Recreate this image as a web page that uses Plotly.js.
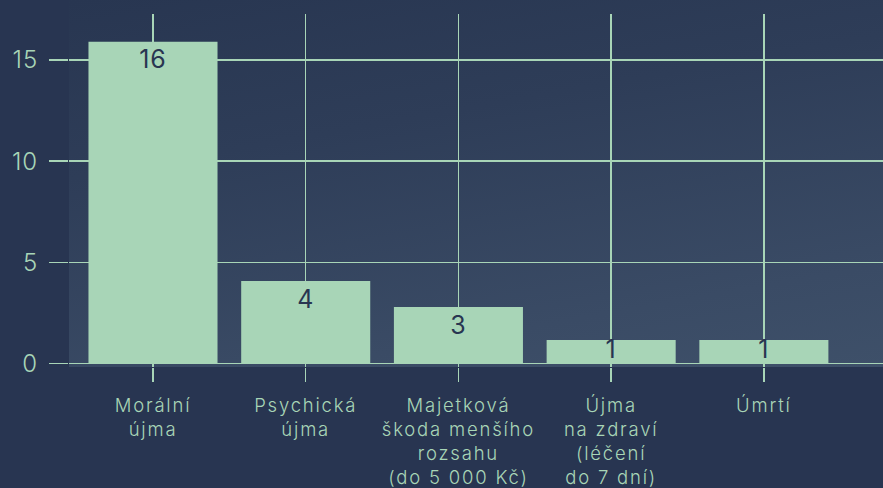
<!DOCTYPE html>
<html>
<head>
<meta charset="utf-8">
<script src="https://cdn.plot.ly/plotly-3.0.1.min.js"></script>
<style>
  html, body { margin: 0; padding: 0; background: #283551; }
  #wrap { position: relative; width: 883px; height: 488px; overflow: hidden; }
  #bg { position: absolute; left: 69px; top: 0px; width: 814px; height: 367px;
        background: linear-gradient(170deg, #283651 0%, #2e3d58 35%, #3a4b65 80%, #3e5069 100%); }
  #chart { position: absolute; left: 0; top: 0; width: 883px; height: 488px; }
  .xtick text { letter-spacing: 1.8px; }
  .ytick text { letter-spacing: 1px; }
  .textpoint text { letter-spacing: 1px; }
</style>
</head>
<body>
<div id="wrap">
  <div id="bg"></div>
  <div id="chart"></div>
</div>
<script>
const categories = [
  "Morální<br>újma",
  "Psychická<br>újma",
  "Majetková<br>škoda menšího<br>rozsahu<br>(do 5 000 Kč)",
  "Újma<br>na zdraví<br>(léčení<br>do 7 dní)",
  "Úmrtí"
];
const values = [15.9, 4.08, 2.79, 1.16, 1.16];
const yTicks = [0, 5, 10, 15];

const green = "#a8d5b7";
const dark = "#283551";
const fontFamily = "Inter, 'Noto Sans', sans-serif";
const xIdx = categories.map((c, i) => i);

// labels: at the bar top for tall bars, centred for bars too short to hold the text
const short = values.map(v => v < 2);
const labelY = values.map((v, i) => short[i] ? v / 2 : v);
const labelPos = short.map(s => s ? "middle center" : "bottom center");
const labelText = values.map(v => String(Math.round(v)));

const bars = {
  type: "bar",
  x: xIdx,
  y: values,
  marker: { color: green, line: { width: 0 } },
  hoverinfo: "none"
};

const labels = {
  type: "scatter",
  mode: "markers+text",
  x: xIdx,
  y: labelY,
  text: labelText,
  textposition: labelPos,
  marker: { size: 11, opacity: 0, color: green },
  textfont: { color: dark, size: 25, family: fontFamily, weight: 400 },
  hoverinfo: "none",
  cliponaxis: false
};

const layout = {
  width: 883,
  height: 488,
  margin: { l: 69, r: 0, t: 14, b: 121 },
  paper_bgcolor: "rgba(0,0,0,0)",
  plot_bgcolor: "rgba(0,0,0,0)",
  bargap: 0.155,
  showlegend: false,
  font: { family: fontFamily, color: green, size: 20 },
  xaxis: {
    range: [-0.55, 4.78],
    tickmode: "array",
    tickvals: xIdx,
    ticktext: categories,
    showgrid: true,
    gridcolor: green,
    gridwidth: 1.5,
    ticks: "outside",
    ticklen: 14,
    tickwidth: 1.5,
    tickcolor: green,
    zeroline: false,
    showline: false,
    tickfont: { size: 18.5, color: green, family: fontFamily, weight: 300 },
    ticklabelstandoff: 8
  },
  yaxis: {
    range: [-0.17, 17.27],
    tickmode: "array",
    tickvals: yTicks,
    showgrid: true,
    gridcolor: green,
    gridwidth: 1.5,
    ticks: "outside",
    ticklen: 19,
    tickwidth: 1.5,
    tickcolor: green,
    zeroline: false,
    showline: false,
    tickfont: { size: 24, color: green, family: fontFamily, weight: 300 },
    ticklabelstandoff: 6
  }
};

Plotly.newPlot("chart", [bars, labels], layout, { displayModeBar: false, staticPlot: true });
</script>
</body>
</html>
